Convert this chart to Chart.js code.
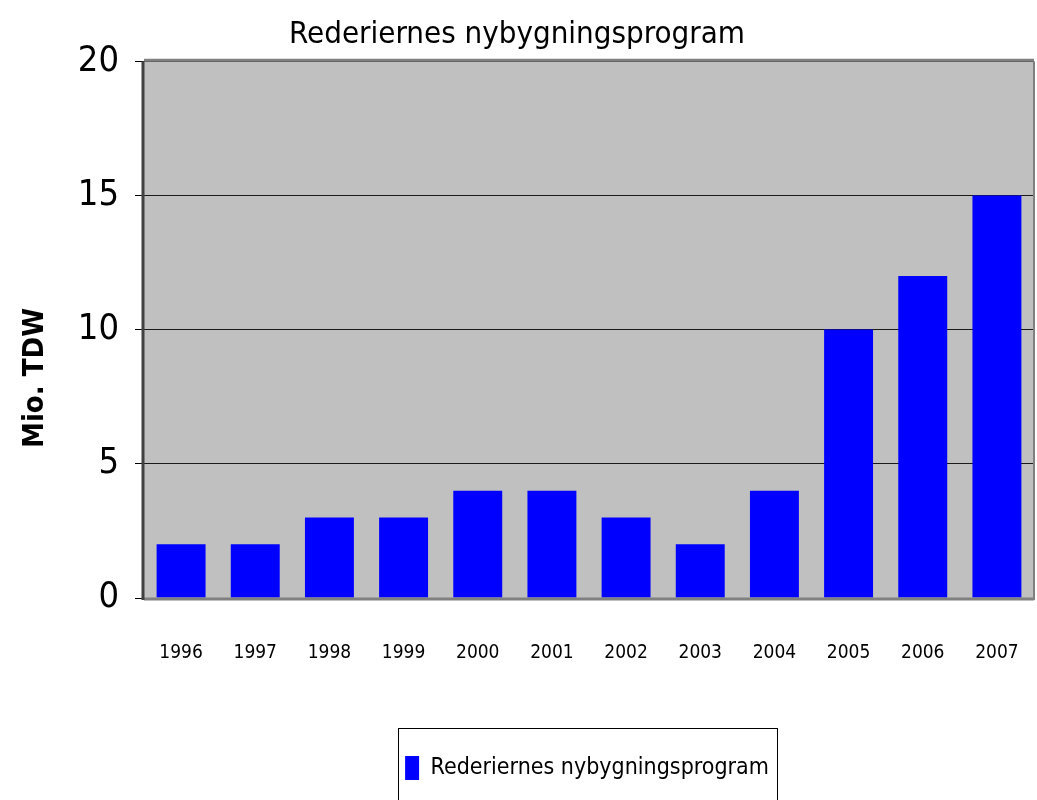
<!DOCTYPE html>
<html>
<head>
<meta charset="utf-8">
<script src="https://cdn.jsdelivr.net/npm/chart.js@4.4.0/dist/chart.umd.min.js"></script>
<style>
  html, body { margin: 0; padding: 0; background: #fff; }
  #wrap { width: 1037px; height: 800px; }
</style>
</head>
<body>
<div id="wrap"><canvas id="chart" width="1037" height="800"></canvas></div>
<script>
// Data
const years = ["1996", "1997", "1998", "1999", "2000", "2001", "2002", "2003", "2004", "2005", "2006", "2007"];
const tdw = [2, 2, 3, 3, 4, 4, 3, 2, 4, 10, 12, 15];
const yTicks = [0, 5, 10, 15, 20];
const yTitle = "Mio. TDW";

const FONT = "'DejaVu Sans Condensed', 'Liberation Sans', sans-serif";

// Grey plot area with the darker frame
const plotBackground = {
  id: "plotBackground",
  beforeDraw(chart) {
    const { ctx, chartArea: a } = chart;
    ctx.save();
    ctx.fillStyle = "#c0c0c0";
    ctx.fillRect(a.left, a.top, a.right - a.left, a.bottom - a.top);
    ctx.restore();
  },
  afterDatasetsDraw(chart) {
    const { ctx, chartArea: a } = chart;
    ctx.save();
    ctx.strokeStyle = "#808080";
    ctx.lineWidth = 3;
    ctx.beginPath();
    ctx.moveTo(a.left, a.top - 1);
    ctx.lineTo(a.right, a.top - 1);
    ctx.moveTo(a.left, a.bottom + 1);
    ctx.lineTo(a.right, a.bottom + 1);
    ctx.stroke();
    ctx.lineWidth = 2;
    ctx.beginPath();
    ctx.moveTo(a.right, a.top);
    ctx.lineTo(a.right, a.bottom + 2);
    ctx.stroke();
    ctx.strokeStyle = "#404040";
    ctx.lineWidth = 3;
    ctx.beginPath();
    ctx.moveTo(a.left - 1, a.top);
    ctx.lineTo(a.left - 1, a.bottom + 2);
    ctx.stroke();
    ctx.restore();
  }
};

// Y axis title, placed a bit below the axis middle as in the reference
const axisTitle = {
  id: "axisTitle",
  afterDraw(chart) {
    const { ctx } = chart;
    ctx.save();
    ctx.translate(35, 378);
    ctx.rotate(-Math.PI / 2);
    ctx.font = "bold 29px " + FONT;
    ctx.fillStyle = "#000";
    ctx.textAlign = "center";
    ctx.textBaseline = "middle";
    ctx.fillText(yTitle, 0, 0);
    ctx.restore();
  }
};

// Legend moved under the plot area and framed
const legendBox = {
  id: "legendBox",
  afterLayout(chart) {
    const l = chart.legend;
    if (!l) return;
    l.left += 70;
    l.right += 70;
  },
  afterDraw(chart) {
    const { ctx } = chart;
    ctx.save();
    ctx.strokeStyle = "#000";
    ctx.lineWidth = 1;
    ctx.strokeRect(398.5, 728.5, 379, 80);
    ctx.restore();
  }
};

new Chart(document.getElementById("chart"), {
  type: "bar",
  data: {
    labels: years,
    datasets: [{
      label: "Rederiernes nybygningsprogram",
      data: tdw,
      backgroundColor: "#0000ff",
      borderWidth: 0,
      categoryPercentage: 1,
      barPercentage: 0.66
    }]
  },
  options: {
    responsive: false,
    animation: false,
    layout: { padding: { left: 0, right: 3, top: 0, bottom: 10 } },
    plugins: {
      title: {
        display: true,
        text: "Rederiernes nybygningsprogram",
        color: "#000",
        font: { family: FONT, size: 31, weight: "normal" },
        padding: { top: 16, bottom: 8 }
      },
      legend: {
        position: "bottom",
        labels: {
          color: "#000",
          font: { family: FONT, size: 23 },
          boxWidth: 14,
          boxHeight: 24,
          padding: 22
        }
      },
      tooltip: { enabled: false }
    },
    scales: {
      x: {
        grid: { display: false, drawTicks: true, tickLength: 44 },
        border: { display: false },
        ticks: {
          color: "#000",
          font: { family: FONT, size: 19 },
          padding: 0,
          maxRotation: 0
        },
        afterFit(scale) { scale.height = 136; }
      },
      y: {
        min: 0,
        max: 20,
        afterBuildTicks(scale) { scale.ticks = yTicks.map(v => ({ value: v })); },
        grid: {
          color: "#1a1a1a",
          lineWidth: 1,
          tickLength: 9,
          tickColor: "#000"
        },
        border: { display: false },
        ticks: {
          color: "#000",
          font: { family: FONT, size: 36 },
          padding: 16
        },
        afterFit(scale) { scale.width = 144; }
      }
    }
  },
  plugins: [plotBackground, axisTitle, legendBox]
});
</script>
</body>
</html>
